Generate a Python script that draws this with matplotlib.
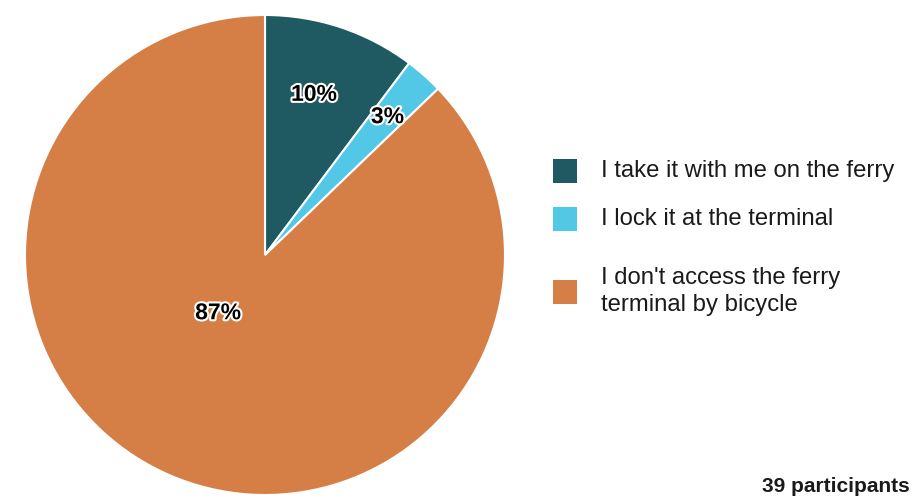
import numpy as np
import matplotlib
matplotlib.use("Agg")
import matplotlib.pyplot as plt
import matplotlib.patheffects as pe
from matplotlib.patches import Rectangle

plt.rcParams['font.family'] = ['Liberation Sans', 'DejaVu Sans']

# Survey responses: how participants handle their bicycle at the ferry
categories = [
    "I take it with me on the ferry",
    "I lock it at the terminal",
    "I don't access the ferry\nterminal by bicycle",
]
counts = [4, 1, 34]
colors = ["#1f5a63", "#52c8e6", "#d57f46"]
total = sum(counts)

# label anchor (radius fraction, angle offset in degrees) for each slice
label_radius = [0.70, 0.77, 0.31]
label_angle_shift = [1.5, 0.0, -16.0]

# legend row centres (pixels from top)
legend_rows = [171, 219, 291.5]

fig = plt.figure(figsize=(9.14, 4.99), dpi=100)
W, H = 914, 499
cx, cy, r = 265, 255, 240
ax = fig.add_axes([(cx - r) / W, (H - cy - r) / H, 2 * r / W, 2 * r / H])

wedges, _ = ax.pie(
    counts,
    colors=colors,
    startangle=90,
    counterclock=False,
    radius=1.0,
    wedgeprops=dict(edgecolor="white", linewidth=1.5),
)
ax.set_xlim(-1, 1)
ax.set_ylim(-1, 1)
ax.set_aspect("equal")
ax.axis("off")

for w, n, rr, sh in zip(wedges, counts, label_radius, label_angle_shift):
    mid = np.deg2rad((w.theta1 + w.theta2) / 2 + sh)
    pct = round(100 * n / total)
    ax.text(rr * np.cos(mid), rr * np.sin(mid), f"{pct}%",
            ha="center", va="center", fontsize=16.5, fontweight="bold",
            color="black",
            path_effects=[pe.withStroke(linewidth=3, foreground="white")])

# legend: square swatch plus label per category
sq = 24
for label, col, yc in zip(categories, colors, legend_rows):
    fig.patches.append(Rectangle(
        (553 / W, 1 - (yc + sq / 2) / H), sq / W, sq / H,
        transform=fig.transFigure, facecolor=col, edgecolor="none"))
    fig.text(601 / W, 1 - yc / H, label, ha="left", va="center",
             fontsize=17.2, color="#1a1a1a", linespacing=1.33)

fig.text(910 / W, 1 - 487 / H, f"{total} participants",
         ha="right", va="center", fontsize=15, fontweight="bold",
         color="#1a1a1a")

fig.savefig("out.png", dpi=100)
